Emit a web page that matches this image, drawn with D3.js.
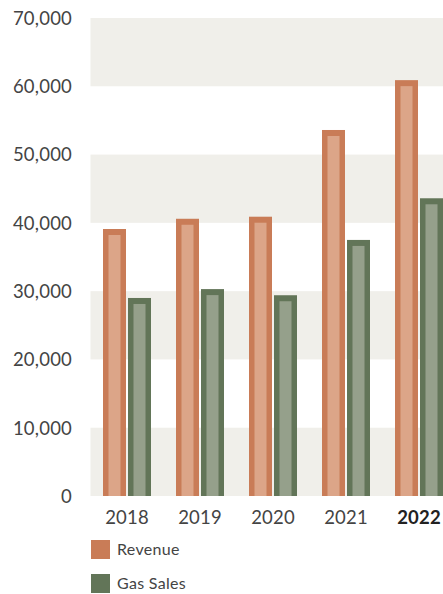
<!DOCTYPE html>
<html>
<head>
<meta charset="utf-8">
<script src="https://cdn.jsdelivr.net/npm/d3@7"></script>
<style>
html,body{margin:0;padding:0;background:#fff;overflow:hidden;}
svg{display:block;font-family:Lato,"Open Sans",sans-serif;}
</style>
</head>
<body>
<svg id="chart" width="443" height="594"></svg>
<script>
const years = ["2018","2019","2020","2021","2022"];
const seriesNames = ["Revenue","Gas Sales"];
const revenue = [39100, 40600, 40900, 53600, 60900];
const gasSales = [29000, 30300, 29400, 37500, 43600];
const yTicks = [0,10000,20000,30000,40000,50000,60000,70000];
const colorsDark = ["#c97c57","#627558"];
const colorsLight = ["#dca588","#95a08b"];

const svg = d3.select("#chart");
const y = d3.scaleLinear().domain([0,70000]).range([496,18]);
const x0 = d3.scaleBand().domain(years).range([90.5,455.5]).padding(0);
const x1 = d3.scaleBand().domain(seriesNames).range([12.5,60.5]).paddingInner(0.08).paddingOuter(0);

// alternating bands
const bandPairs = d3.range(0,7).map(i=>[i*10000,(i+1)*10000]).filter((d,i)=>i%2===0);
svg.append("g").selectAll("rect").data(bandPairs).join("rect")
  .attr("x",x0.range()[0]).attr("width",x0.range()[1]-x0.range()[0])
  .attr("y",d=>y(d[1])).attr("height",d=>y(d[0])-y(d[1]))
  .attr("fill","#f0efea");

// y axis
const yAxis = d3.axisLeft(y).tickValues(yTicks).tickSize(0).tickPadding(0)
  .tickFormat(d=>d3.format(",")(d));
const gy = svg.append("g").attr("transform","translate(72,0)").call(yAxis);
gy.select(".domain").remove();
gy.selectAll("text").attr("font-size",18.5).attr("fill","#444")
  .attr("font-family","Lato,'Open Sans',sans-serif").attr("dy","0.34em")
  .attr("letter-spacing","0.2");

// bars
const data = years.map((yr,i)=>({year:yr, values:[revenue[i],gasSales[i]]}));
const inset = 5.5;
const groups = svg.append("g").selectAll("g").data(data).join("g")
  .attr("transform",d=>`translate(${x0(d.year)},0)`);
groups.each(function(d){
  const g = d3.select(this);
  d.values.forEach((v,j)=>{
    const bx = x1(seriesNames[j]), bw = x1.bandwidth();
    g.append("rect").attr("x",bx).attr("width",bw)
      .attr("y",y(v)).attr("height",y(0)-y(v)).attr("fill",colorsDark[j]);
    g.append("rect").attr("x",bx+inset).attr("width",bw-2*inset)
      .attr("y",y(v)+inset+0.5).attr("height",Math.max(0,y(0)-y(v)-inset-0.5)).attr("fill",colorsLight[j]);
  });
});

// x axis
const xAxis = d3.axisBottom(x0).tickSize(0).tickPadding(0);
const gx = svg.append("g").attr("transform","translate(0,518)").call(xAxis);
gx.select(".domain").remove();
gx.selectAll("text").attr("font-size",18.5)
  .attr("font-family","Lato,'Open Sans',sans-serif").attr("dy","0.34em")
  .attr("letter-spacing","0.2")
  .attr("font-weight",d=>d==="2022"?"bold":"normal")
  .attr("fill",d=>d==="2022"?"#222":"#444");

// legend
const legend = svg.append("g").selectAll("g").data(seriesNames).join("g")
  .attr("transform",(d,i)=>`translate(91,${540+i*34})`);
legend.append("rect").attr("width",19).attr("height",19).attr("fill",(d,i)=>colorsDark[i]);
legend.append("text").attr("x",26).attr("y",10).attr("dy","0.34em")
  .attr("font-size",16).attr("fill","#444").attr("letter-spacing","0.3").text(d=>d);
</script>
</body>
</html>
